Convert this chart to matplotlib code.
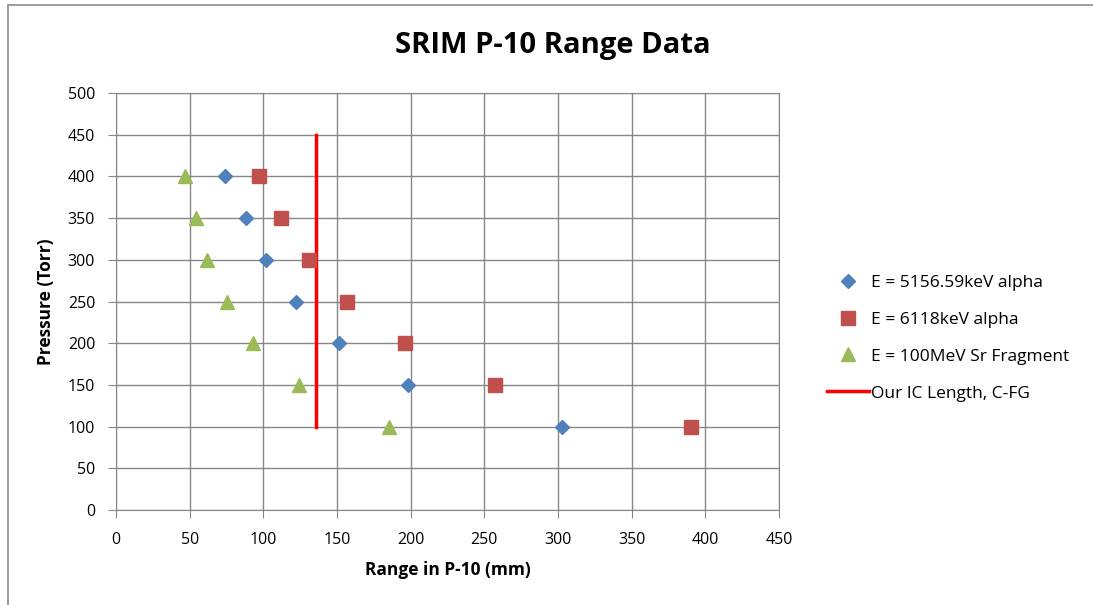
import matplotlib.pyplot as plt
from matplotlib.patches import Rectangle

plt.rcParams['font.family'] = ['Open Sans', 'DejaVu Sans']

# data
pressure = [400, 350, 300, 250, 200, 150, 100]
range_alpha_5156 = [74, 88, 102, 122, 151.5, 198, 303]
range_alpha_6118 = [97, 112, 131, 157, 196, 257, 390.5]
range_sr_100mev = [47, 54, 62, 75, 93, 124, 185]
ic_length = [136, 136]
ic_pressure = [100, 450]

W, H = 1093, 605
fig = plt.figure(figsize=(W/100, H/100), dpi=100)
fig.patches.append(Rectangle((8/W, -0.1), 1.2, 1 - 5/H + 0.1,
                             transform=fig.transFigure, fill=False,
                             edgecolor='#8c8c8c', linewidth=1.2))
ax = fig.add_axes([116/W, 1 - 510/H, (779 - 116)/W, (510 - 93)/H])

ax.plot(range_alpha_5156, pressure, 'D', color='#4F81BD', ms=7.5,
        label='E = 5156.59keV alpha', zorder=3)
ax.plot(range_alpha_6118, pressure, 's', color='#C0504D', ms=10.5,
        label='E = 6118keV alpha', zorder=3)
ax.plot(range_sr_100mev, pressure, '^', color='#9BBB59', ms=10,
        label='E = 100MeV Sr Fragment', zorder=3)
ax.plot(ic_length, ic_pressure, '-', color='#FF0000', lw=2.5,
        label='Our IC Length, C-FG', zorder=2)

ax.set_xlim(0, 450)
ax.set_ylim(0, 500)
ax.set_xticks(range(0, 451, 50))
ax.set_yticks(range(0, 501, 50))
ax.grid(True, color='#878787', lw=1)
ax.set_axisbelow(True)
for s in ax.spines.values():
    s.set_color('#878787')
ax.tick_params(colors='#878787', labelcolor='black', labelsize=11.5, length=6)
ax.tick_params(axis='y', pad=9)
ax.tick_params(axis='x', pad=10)

fig.text(553/W, 1 - 46/H, 'SRIM P-10 Range Data', fontsize=21,
         fontweight='bold', ha='center', va='center')
ax.set_xlabel('Range in P-10 (mm)', fontsize=12.5, fontweight='bold')
ax.set_ylabel('Pressure (Torr)', fontsize=12.5, fontweight='bold')
ax.xaxis.set_label_coords(0.5, -(561 - 510)/417)
ax.yaxis.set_label_coords(-(116 - 55)/663, 0.5)

ax.legend(loc='center left', bbox_to_anchor=(820/W, 1 - 338/H),
          bbox_transform=fig.transFigure, borderaxespad=0, frameon=False,
          fontsize=12.5, labelspacing=1.2, handlelength=2.4,
          handletextpad=0.15)

fig.savefig('out.png', dpi=100)
